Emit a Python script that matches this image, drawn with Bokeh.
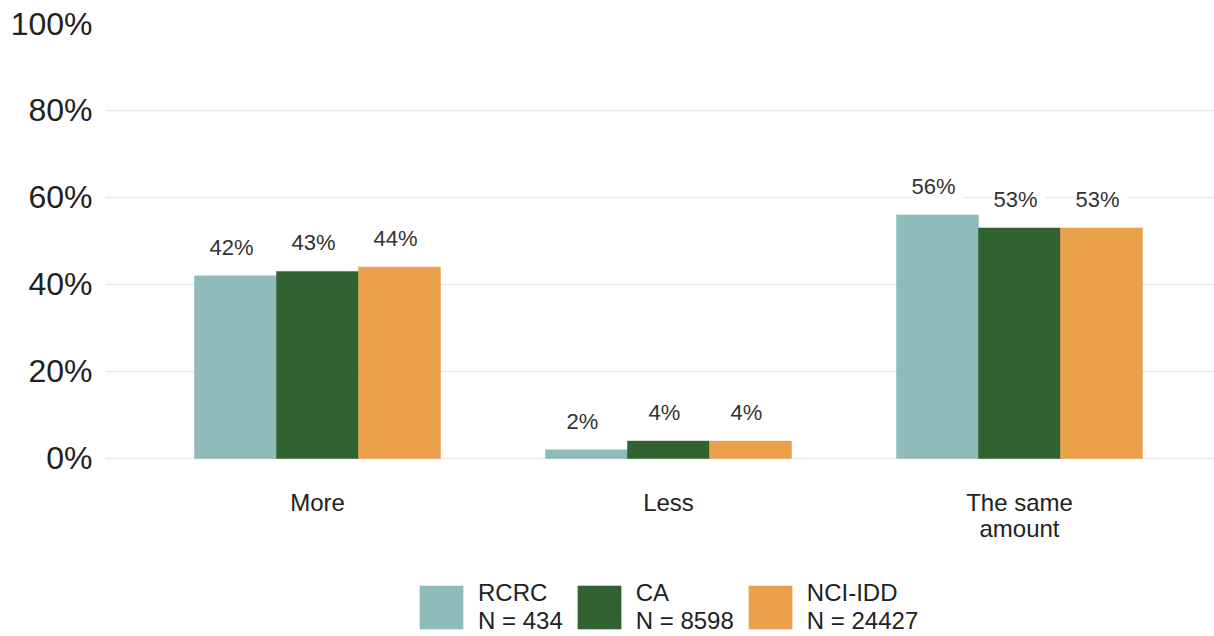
from bokeh.plotting import figure
from bokeh.models import ColumnDataSource, FixedTicker, Legend, LegendItem, Range1d
from bokeh.core.properties import value
from bokeh.embed import file_html
from bokeh.resources import INLINE

categories = ["More", "Less", "The same\namount"]
series = ["RCRC", "CA", "NCI-IDD"]
series_n = ["N = 434", "N = 8598", "N = 24427"]
rcrc = [42, 2, 56]
ca = [43, 4, 53]
nci = [44, 4, 53]
colors = ["#8FBCBB", "#316232", "#EBA04B"]
y_ticks = [0, 20, 40, 60, 80, 100]

FONT = "Liberation Sans"
bar_w = 0.2336
offsets = [-bar_w, 0.0, bar_w]

# frame covers the full height below the top border; the space under 0 holds category labels and legend
p = figure(width=1214, height=636, output_backend="svg", toolbar_location=None,
           x_range=Range1d(-0.604, 2.5556), y_range=Range1d(-40.92, 100),
           min_border_left=105, min_border_right=0, min_border_top=23, min_border_bottom=0)
p.outline_line_color = None
p.background_fill_color = "white"
p.border_fill_color = "white"

renderers = []
for vals, off, col in zip([rcrc, ca, nci], offsets, colors):
    xs = [i + off for i in range(len(categories))]
    src = ColumnDataSource(dict(x=xs, top=vals, lab=[f"{v}%" for v in vals]))
    r = p.vbar(x="x", top="top", width=bar_w, bottom=0, source=src,
               fill_color=col, line_color=col, line_width=0.5)
    renderers.append(r)
    p.text(x="x", y="top", text="lab", source=src, text_align="center", text_baseline="bottom",
           y_offset=-8, text_font=value(FONT), text_font_size="22px", text_color="#333333",
           background_fill_color="white", padding=[0, 8, 0, 8])

# category labels under the bars
cat_src = ColumnDataSource(dict(x=list(range(len(categories))), y=[0] * len(categories), t=categories))
p.text(x="x", y="y", text="t", source=cat_src, text_align="center", text_baseline="top",
       y_offset=31, text_font=value(FONT), text_font_size="24px", text_color="#222222",
       text_line_height=0.95)

# axes
p.yaxis.ticker = FixedTicker(ticks=y_ticks)
p.yaxis.major_label_overrides = {t: f"{t}%" for t in y_ticks}
p.yaxis.axis_line_color = None
p.yaxis.major_tick_line_color = None
p.yaxis.minor_tick_line_color = None
p.yaxis.major_label_standoff = 7
p.yaxis.major_label_text_font = FONT
p.yaxis.major_label_text_font_size = "32px"
p.yaxis.major_label_text_color = "#222222"
p.xaxis.visible = False

p.xgrid.grid_line_color = None
p.ygrid.grid_line_color = "#EBEBEB"
p.ygrid.grid_line_width = 1.5
p.ygrid.level = "underlay"

legend = Legend(items=[LegendItem(label=f"{s}\n{n}", renderers=[r]) for s, n, r in zip(series, series_n, renderers)],
                orientation="horizontal", location=(309, 1))
legend.glyph_width = 54
legend.glyph_height = 54
legend.label_standoff = 10
legend.spacing = 9
legend.padding = 0
legend.margin = 0
legend.border_line_color = None
legend.background_fill_alpha = 0
legend.label_text_font = FONT
legend.label_text_font_size = "24px"
legend.label_text_color = "#222222"
legend.label_text_line_height = 0.7
p.add_layout(legend, "center")

open("out.html", "w").write(file_html(p, INLINE))
